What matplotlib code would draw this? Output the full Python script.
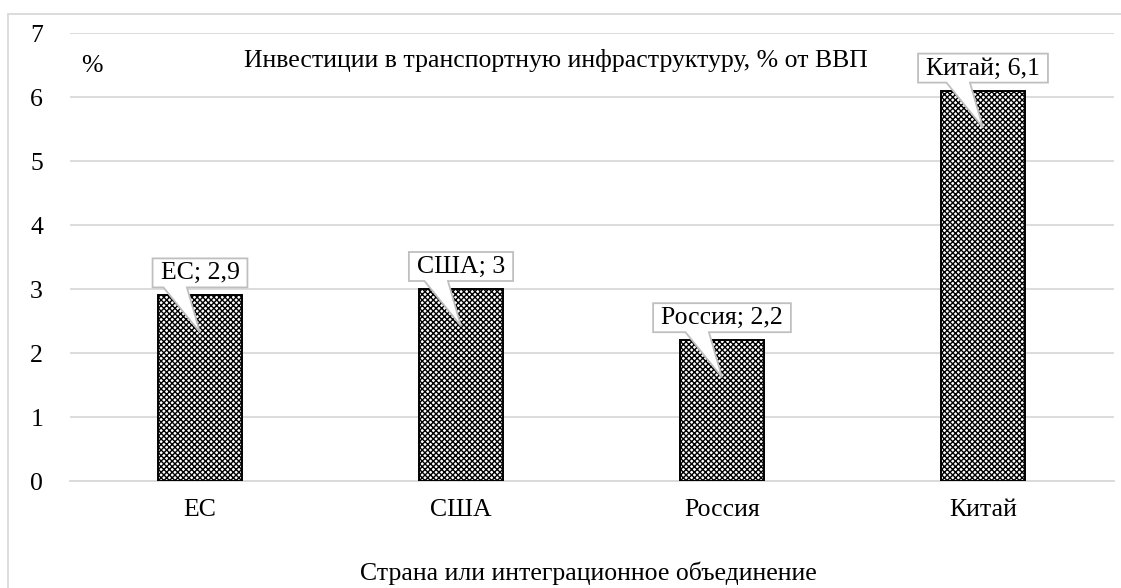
import matplotlib
matplotlib.use("Agg")
import matplotlib.pyplot as plt
from matplotlib.patches import Rectangle, Polygon

plt.rcParams['font.family'] = ['Liberation Serif', 'DejaVu Serif']
plt.rcParams['hatch.linewidth'] = 1.0

categories = ["ЕС", "США", "Россия", "Китай"]
values = [2.9, 3.0, 2.2, 6.1]
value_labels = ["2,9", "3", "2,2", "6,1"]
y_ticks = [0, 1, 2, 3, 4, 5, 6, 7]

W, H = 1121, 588
FS = 18.5
GRID = '#d9d9d9'
CALLOUT_EDGE = '#bfbfbf'

fig = plt.figure(figsize=(W / 100, H / 100), dpi=100)
ax = fig.add_axes([69.5 / W, 1 - 481 / H, (1113.5 - 69.5) / W, (481 - 33) / H])

# outer chart frame
fig.patches.append(Rectangle((8 / W, -0.01), 1.02, 1.01 - 14 / H, transform=fig.transFigure,
                             fill=False, edgecolor=GRID, linewidth=1.3))

x = list(range(len(categories)))
ax.bar(x, values, width=0.32, facecolor='white', edgecolor='black',
       hatch='xxxxxx', linewidth=1.4, zorder=3)

ax.set_xlim(-0.5, len(categories) - 0.5)
ax.set_ylim(0, 7)
ax.set_yticks(y_ticks)
ax.set_xticks(x)
ax.set_xticklabels(categories)
ax.tick_params(axis='both', length=0, labelsize=FS, colors='black')
ax.tick_params(axis='y', pad=19)
ax.tick_params(axis='x', pad=13)
ax.yaxis.grid(True, color=GRID, linewidth=1.3, zorder=0)
for side in ['left', 'right', 'top']:
    ax.spines[side].set_visible(False)
ax.spines['bottom'].set_color(GRID)
ax.spines['bottom'].set_linewidth(1.3)
ax.set_axisbelow(True)

ax.text(1.362, 6.47, "Инвестиции в транспортную инфраструктуру, % от ВВП",
        ha='center', va='baseline', fontsize=FS)
ax.text(-0.414, 6.48, "%", ha='center', va='center', fontsize=FS)
fig.text(588 / W, 1 - 580 / H, "Страна или интеграционное объединение",
         ha='center', va='baseline', fontsize=FS)

# callout labels: text first, then a box-with-pointer outline sized around it
texts = []
for xi, (cat, val, lab) in enumerate(zip(categories, values, value_labels)):
    t = ax.text(xi, val + 0.25, f"{cat}; {lab}", ha='center', va='baseline',
                fontsize=FS, zorder=6)
    texts.append(t)

fig.canvas.draw()
renderer = fig.canvas.get_renderer()
to_data = ax.transData.inverted()
for xi, (val, t) in enumerate(zip(values, texts)):
    ext = t.get_window_extent(renderer)
    x0, y0 = to_data.transform((ext.x0 - 8, ext.y0 - 3))
    x1, y1 = to_data.transform((ext.x1 + 8, ext.y1 + 4))
    tip = (xi, val - 0.58)
    outline = [(x0, y1), (x1, y1), (x1, y0), (xi - 0.05, y0), tip,
               (xi - 0.14, y0), (x0, y0)]
    ax.add_patch(Polygon(outline, closed=True, facecolor='white',
                         edgecolor=CALLOUT_EDGE, linewidth=1.3, zorder=5))

fig.savefig("out.png", dpi=100)
